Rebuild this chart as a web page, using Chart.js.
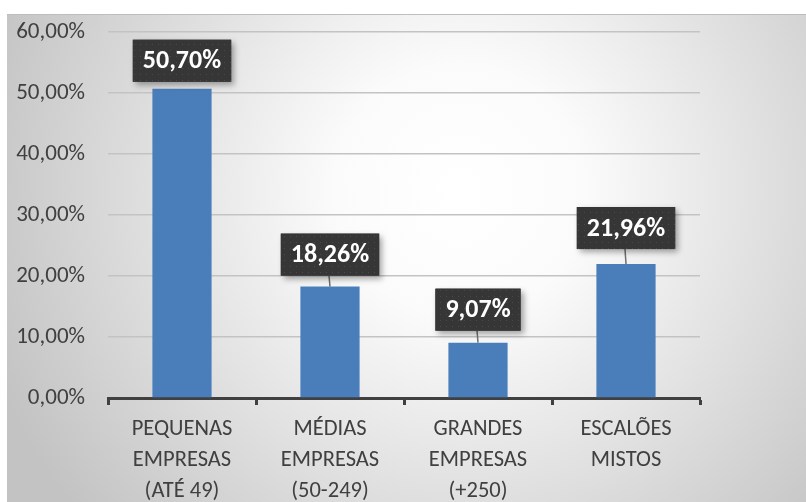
<!DOCTYPE html>
<html>
<head>
<meta charset="utf-8">
<script src="https://cdn.jsdelivr.net/npm/chart.js@4/dist/chart.umd.min.js"></script>
<style>
  html, body { margin: 0; padding: 0; background: #ffffff; }
  #wrap { width: 806px; height: 502px; position: relative; }
</style>
</head>
<body>
<div id="wrap"><canvas id="c" width="806" height="502"></canvas></div>
<script>
// Categories (multi-line labels) and share of companies per size class, in %
const categories = [
  ['PEQUENAS', 'EMPRESAS', '(ATÉ 49)'],
  ['MÉDIAS', 'EMPRESAS', '(50-249)'],
  ['GRANDES', 'EMPRESAS', '(+250)'],
  ['ESCALÕES', 'MISTOS']
];
const shares = [50.70, 18.26, 9.07, 21.96];
const yTicks = [0, 10, 20, 30, 40, 50, 60];

const FONT = "Carlito, Lato, 'Liberation Sans', sans-serif";
const fmt = v => v.toFixed(2).replace('.', ',') + '%';

// Grey panel with a soft radial light in the middle
const panelPlugin = {
  id: 'panel',
  beforeDraw(chart) {
    const ctx = chart.ctx;
    ctx.save();
    const x0 = 7, y0 = 14, x1 = chart.width, y1 = chart.height;
    const g = ctx.createRadialGradient(460, 190, 0, 460, 190, 500);
    g.addColorStop(0, '#ffffff');
    g.addColorStop(0.25, '#fbfbfb');
    g.addColorStop(1, '#c3c3c3');
    ctx.fillStyle = g;
    ctx.fillRect(x0, y0, x1 - x0, y1 - y0);
    ctx.strokeStyle = '#bdbdbd';
    ctx.lineWidth = 1;
    ctx.beginPath();
    ctx.moveTo(x0, y0 + 0.5);
    ctx.lineTo(x1, y0 + 0.5);
    ctx.stroke();
    ctx.restore();
  }
};

// Dark callout boxes holding each bar's value
let dotPattern = null;
function getPattern(ctx) {
  if (dotPattern) return dotPattern;
  const p = document.createElement('canvas');
  p.width = 6; p.height = 6;
  const pc = p.getContext('2d');
  pc.fillStyle = '#363636';
  pc.fillRect(0, 0, 6, 6);
  pc.fillStyle = '#4a4a4a';
  pc.fillRect(2, 2, 1, 1);
  dotPattern = ctx.createPattern(p, 'repeat');
  return dotPattern;
}

const calloutPlugin = {
  id: 'callouts',
  afterDatasetsDraw(chart, args, opts) {
    const ctx = chart.ctx;
    const meta = chart.getDatasetMeta(0);
    const data = chart.data.datasets[0].data;
    ctx.save();
    ctx.font = 'bold ' + opts.fontSize + 'px ' + FONT;
    meta.data.forEach((bar, i) => {
      const text = fmt(data[i]);
      const tw = ctx.measureText(text).width;
      const w = tw + opts.padX * 2;
      const h = opts.boxH;
      const gap = opts.gaps[i];
      const bottom = bar.y - gap;
      const top = bottom - h;
      const left = bar.x - w / 2;
      if (gap > 9) {
        ctx.strokeStyle = '#6f6f6f';
        ctx.lineWidth = 1.5;
        ctx.beginPath();
        ctx.moveTo(bar.x - 1, bottom);
        ctx.lineTo(bar.x, bar.y);
        ctx.stroke();
      }
      ctx.save();
      ctx.shadowColor = 'rgba(0,0,0,0.35)';
      ctx.shadowBlur = 6;
      ctx.shadowOffsetX = 3;
      ctx.shadowOffsetY = 3;
      ctx.fillStyle = '#363636';
      ctx.fillRect(left, top, w, h);
      ctx.restore();
      ctx.fillStyle = getPattern(ctx);
      ctx.fillRect(left, top, w, h);
      ctx.fillStyle = '#ffffff';
      ctx.textAlign = 'center';
      ctx.textBaseline = 'middle';
      ctx.fillText(text, bar.x, top + h / 2 + 1);
    });
    ctx.restore();
  }
};

new Chart(document.getElementById('c'), {
  type: 'bar',
  data: {
    labels: categories,
    datasets: [{
      data: shares,
      backgroundColor: '#4a7ebb',
      borderWidth: 0,
      barPercentage: 0.4,
      categoryPercentage: 1.0
    }]
  },
  options: {
    responsive: false,
    animation: false,
    events: [],
    layout: { padding: { top: 32, right: 106, bottom: 0, left: 0 } },
    plugins: {
      legend: { display: false },
      tooltip: { enabled: false },
      callouts: { fontSize: 26, padX: 10, boxH: 42, gaps: [7, 11, 12, 15] }
    },
    scales: {
      x: {
        offset: true,
        border: { display: true, color: '#404040', width: 3 },
        grid: {
          offset: true,
          drawOnChartArea: false,
          drawTicks: true,
          tickLength: 7,
          tickWidth: 3,
          tickColor: '#404040'
        },
        ticks: {
          color: '#404040',
          font: { family: FONT, size: 22.5, lineHeight: 1.38 },
          padding: 9,
          maxRotation: 0,
          autoSkip: false
        },
        afterFit(scale) {
          scale.height = 104;
          scale.paddingLeft = 0;
          scale.paddingRight = 0;
        }
      },
      y: {
        min: 0,
        max: 60,
        afterBuildTicks(scale) { scale.ticks = yTicks.map(v => ({ value: v })); },
        border: { display: false },
        grid: { color: '#c3c3c3', lineWidth: 1.5, drawTicks: false },
        ticks: {
          color: '#404040',
          font: { family: FONT, size: 23 },
          padding: 23,
          callback: v => fmt(v)
        },
        afterFit(scale) {
          scale.width = 108;
          scale.paddingTop = 0;
          scale.paddingBottom = 0;
        }
      }
    }
  },
  plugins: [panelPlugin, calloutPlugin]
});
</script>
</body>
</html>
